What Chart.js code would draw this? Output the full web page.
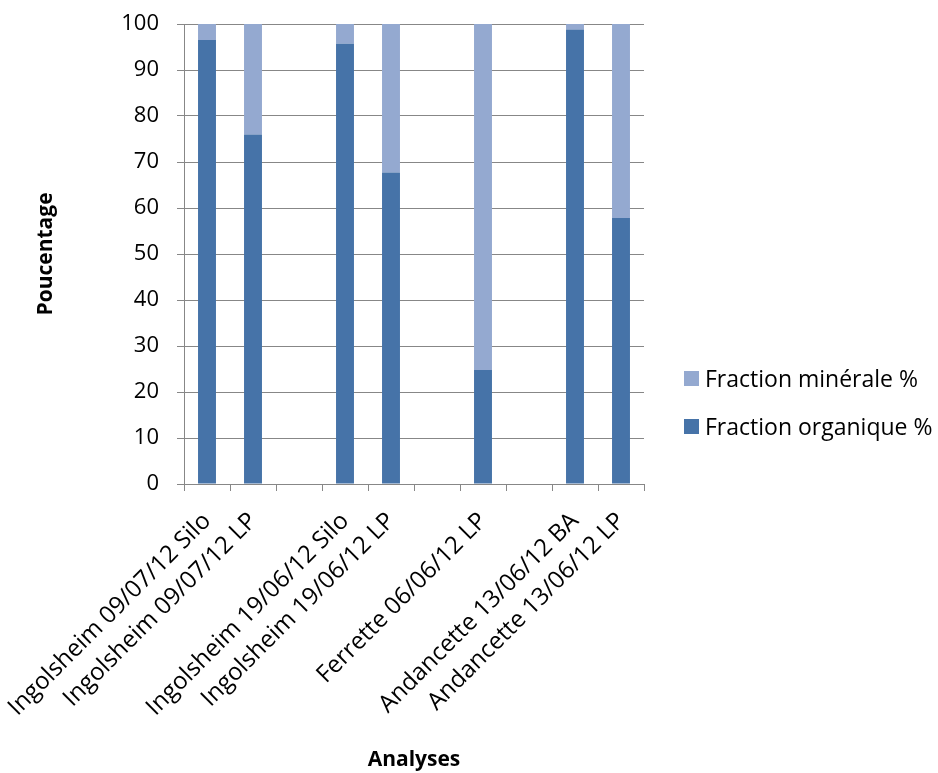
<!DOCTYPE html>
<html>
<head>
<meta charset="utf-8">
<script src="https://cdn.jsdelivr.net/npm/chart.js@4/dist/chart.umd.min.js"></script>
<style>
  html, body { margin: 0; padding: 0; background: #fff; }
  #wrap { position: relative; width: 938px; height: 773px; }
  #legend { position: absolute; left: 684px; top: 354px; font-family: "Open Sans", sans-serif; font-size: 23px; color: #000; }
  #legend div { height: 48px; display: flex; align-items: center; white-space: nowrap; }
  #legend span.sw { display: inline-block; width: 15px; height: 15px; margin-right: 6px; }
</style>
</head>
<body>
<div id="wrap">
  <canvas id="chart" width="938" height="773"></canvas>
  <div id="legend"></div>
</div>
<script>
// Analyses (empty strings = gaps between sites)
const categories = [
  'Ingolsheim 09/07/12 Silo',
  'Ingolsheim 09/07/12 LP',
  '',
  'Ingolsheim 19/06/12 Silo',
  'Ingolsheim 19/06/12 LP',
  '',
  'Ferrette 06/06/12 LP',
  '',
  'Andancette 13/06/12 BA',
  'Andancette 13/06/12 LP'
];
const organique = [96.5, 76.0, null, 95.7, 67.7, null, 24.8, null, 98.8, 57.8];
const minerale = [3.5, 24.0, null, 4.3, 32.3, null, 75.2, null, 1.2, 42.2];
const yTicks = [0, 10, 20, 30, 40, 50, 60, 70, 80, 90, 100];

const FONT = '"Open Sans", sans-serif';
const AXIS = '#878787';
const COL_ORG = '#4673A8';
const COL_MIN = '#94A9D0';

// legend (minérale on top, like the original)
const legendEl = document.getElementById('legend');
[['Fraction minérale %', COL_MIN], ['Fraction organique %', COL_ORG]].forEach(([txt, col]) => {
  legendEl.innerHTML += `<div><span class="sw" style="background:${col}"></span>${txt}</div>`;
});

new Chart(document.getElementById('chart'), {
  type: 'bar',
  data: {
    labels: categories,
    datasets: [
      { label: 'Fraction organique %', data: organique, backgroundColor: COL_ORG },
      { label: 'Fraction minérale %', data: minerale, backgroundColor: COL_MIN }
    ]
  },
  options: {
    responsive: false,
    animation: false,
    barPercentage: 0.78,
    categoryPercentage: 0.5,
    layout: { padding: { left: 0, right: 294, top: 24, bottom: 0 } },
    plugins: {
      legend: { display: false },
      tooltip: { enabled: false }
    },
    scales: {
      x: {
        stacked: true,
        grid: { display: true, drawOnChartArea: false, color: AXIS, tickLength: 7, offset: true },
        border: { color: AXIS, width: 1 },
        ticks: {
          autoSkip: false, minRotation: 45, maxRotation: 45, padding: 16,
          color: '#000', font: { family: FONT, size: 24 }
        },
        title: {
          display: true, text: 'Analyses', color: '#000',
          font: { family: FONT, size: 21, weight: 'bold' }, padding: { top: 0, bottom: 0 }
        },
        afterFit: (scale) => {
          scale.height = 289;
          scale.paddingLeft = 0;
          scale.paddingRight = 0;
        }
      },
      y: {
        stacked: true,
        min: 0, max: 100,
        afterBuildTicks: (scale) => { scale.ticks = yTicks.map(v => ({ value: v })); },
        grid: { color: AXIS, tickLength: 7 },
        border: { color: AXIS, width: 1 },
        ticks: { padding: 18, color: '#000', font: { family: FONT, size: 22 } },
        title: {
          display: true, text: 'Poucentage', color: '#000',
          font: { family: FONT, size: 21, weight: 'bold' }, padding: { top: 33, bottom: 0 }
        },
        afterFit: (scale) => {
          scale.width = 184;
          scale.paddingTop = 10;
          scale.paddingBottom = 10;
        }
      }
    }
  }
});
</script>
</body>
</html>
